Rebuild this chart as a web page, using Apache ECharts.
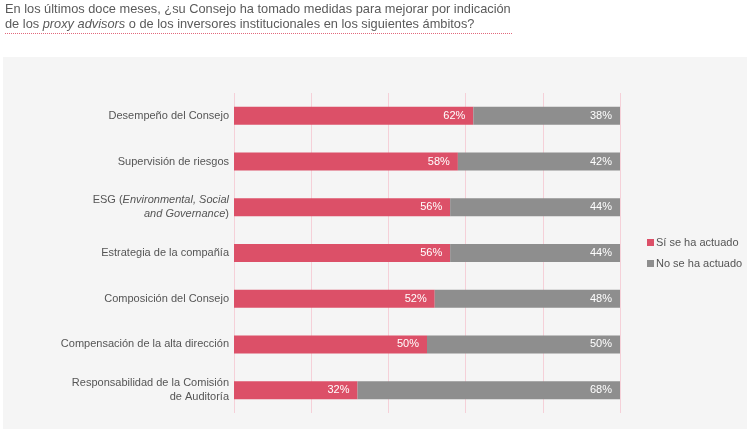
<!DOCTYPE html>
<html><head><meta charset="utf-8">
<script src="https://cdn.jsdelivr.net/npm/echarts@6/dist/echarts.min.js"></script>
<style>html,body{margin:0;padding:0;background:#fff}#c{width:750px;height:434px}</style>
</head><body><div id="c"></div>
<script>
const categories = [
  'Desempeño del Consejo',
  'Supervisión de riesgos',
  'ESG',
  'Estrategia de la compañía',
  'Composición del Consejo',
  'Compensación de la alta dirección',
  'Responsabilidad de la Comisión de Auditoría'
];
const siValues = [62, 58, 56, 56, 52, 50, 32];
const noValues = [38, 42, 44, 44, 48, 50, 68];
const seriesNames = ['Sí se ha actuado', 'No se ha actuado'];
const xTicks = [0, 20, 40, 60, 80, 100];

const labelMap = {
  'ESG': '{n|ESG (}{i|Environmental, Social}\n{i|and Governance}{n|)}',
  'Responsabilidad de la Comisión de Auditoría': '{n|Responsabilidad de la Comisión}\n{n|de Auditoría}'
};

const chart = echarts.init(document.getElementById('c'));
const labelStyle = {show: true, position: 'insideRight', color: '#fff', fontSize: 11, fontFamily: 'Liberation Sans, Arial', formatter: '{c}%', distance: 8};
chart.setOption({
  backgroundColor: '#fff',
  animation: false,
  graphic: [
    {type: 'rect', shape: {x: 3, y: 57, width: 744, height: 372}, style: {fill: '#f5f5f5'}, z: -10},
    {type: 'line', shape: {x1: 5, y1: 33.5, x2: 512, y2: 33.5}, style: {stroke: '#e2687c', lineWidth: 1, lineDash: [1, 1]}},
    {type: 'text', left: 5, top: 3, style: {
      text: '{n|En los últimos doce meses, ¿su Consejo ha tomado medidas para mejorar por indicación}\n{n|de los }{i|proxy advisors}{n| o de los inversores institucionales en los siguientes ámbitos?}',
      rich: {
        n: {fontSize: 12.8, fontFamily: 'Liberation Sans, Arial', fill: '#5a5a5a', lineHeight: 15},
        i: {fontSize: 12.8, fontFamily: 'Liberation Sans, Arial', fontStyle: 'italic', fill: '#5a5a5a', lineHeight: 15}
      }
    }}
  ],
  legend: {
    orient: 'vertical', left: 642, top: 232, itemWidth: 7, itemHeight: 7, itemGap: 10,
    icon: 'rect', data: seriesNames,
    textStyle: {fontSize: 11, color: '#555', fontFamily: 'Liberation Sans, Arial', padding: [0, 0, 0, -3]}
  },
  grid: {left: 234, top: 93, width: 386, height: 320, containLabel: false},
  xAxis: {
    type: 'value', min: 0, max: 100, interval: 20,
    axisLabel: {show: false}, axisLine: {show: false}, axisTick: {show: false},
    splitLine: {show: true, lineStyle: {color: '#f5d0d8', width: 1}}
  },
  yAxis: {
    type: 'category', data: categories, inverse: true,
    axisLine: {show: false}, axisTick: {show: false},
    axisLabel: {
      margin: 5, fontSize: 11, color: '#555', fontFamily: 'Liberation Sans, Arial', align: 'right',
      formatter: v => labelMap[v] || ('{n|' + v + '}'),
      rich: {
        n: {fontSize: 11, color: '#555', fontFamily: 'Liberation Sans, Arial', lineHeight: 14, align: 'right'},
        i: {fontSize: 11, color: '#555', fontFamily: 'Liberation Sans, Arial', fontStyle: 'italic', lineHeight: 14, align: 'right'}
      }
    }
  },
  series: [
    {name: seriesNames[0], type: 'bar', stack: 't', data: siValues, barWidth: 18, itemStyle: {color: '#dc5068'}, label: labelStyle},
    {name: seriesNames[1], type: 'bar', stack: 't', data: noValues, barWidth: 18, itemStyle: {color: '#8e8e8e'}, label: labelStyle}
  ]
});
</script></body></html>
